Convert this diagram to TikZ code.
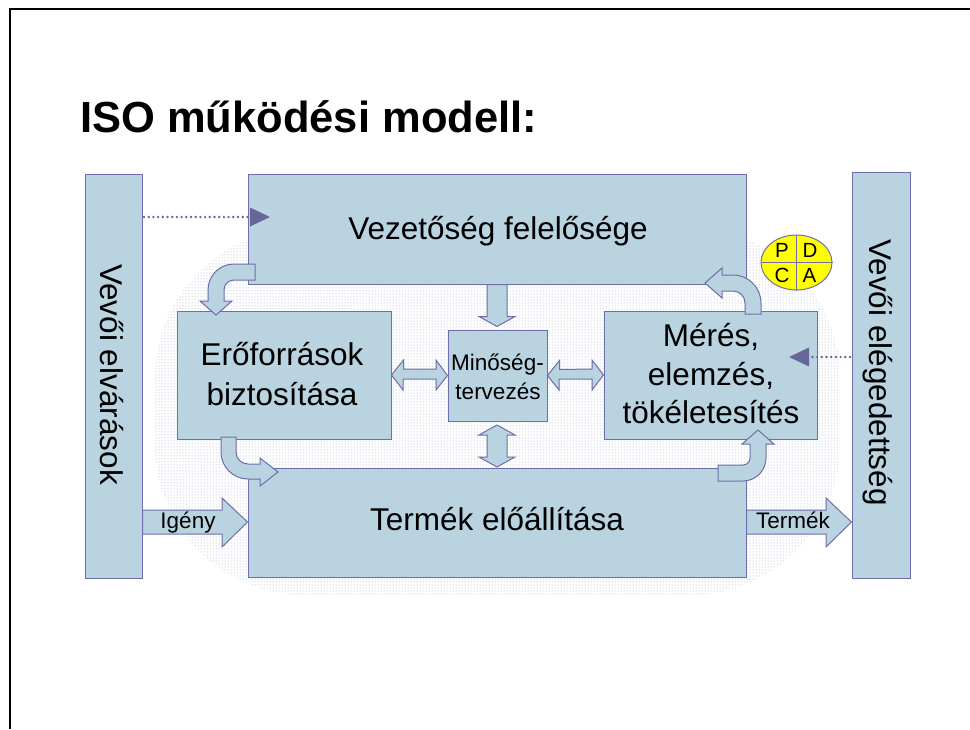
\documentclass[tikz,border=0pt]{standalone}
\usepackage{fontspec}
\setmainfont{Liberation Sans}
\usetikzlibrary{patterns,calc,shapes.geometric}
\definecolor{boxfill}{RGB}{185,212,224}
\definecolor{bord}{RGB}{110,110,170}
\definecolor{dotarrow}{RGB}{102,102,153}
\definecolor{bgdots}{RGB}{150,165,192}
\definecolor{pdcay}{RGB}{255,255,0}
\begin{document}
\begin{tikzpicture}[x=1pt,y=-1pt,
  box/.style={draw=bord, fill=boxfill, line width=1pt, inner sep=0pt, rectangle},
  barrow/.style={draw=bord, fill=boxfill, line width=1pt, line join=miter},
  big/.style={font=\fontsize{31.5}{38}\selectfont, inner sep=0pt, anchor=base},
  small/.style={font=\fontsize{22.5}{27}\selectfont, inner sep=0pt, anchor=base},
  pd/.style={font=\fontsize{20.5}{24}\selectfont, inner sep=0pt, anchor=base},
  dotfill/.style={fill=dotarrow, draw=none},
  dothead/.style={fill=dotarrow, draw=none},
]
\useasboundingbox (0,0) rectangle (970,729);
% frame
\draw[line width=2pt] (10,729) -- (10,9.3) -- (970,9.3);
% title
\node[anchor=base west, inner sep=0pt, font=\fontsize{43.5}{50}\selectfont\bfseries] (title) at (80,132) {ISO működési modell:};
% background dotted area
\fill[pattern=dots, pattern color=bgdots, rounded corners=150pt] (155,228) rectangle (840,595);
% columns
\node[box, minimum width=57pt, minimum height=404pt] (lcol) at (113.5,376) {};
\node[box, minimum width=58pt, minimum height=406pt] (rcol) at (881,375) {};
\node[big, rotate=-90] (lcolt) at (100,374.5) {Vevői elvárások};
\node[big, rotate=-90] (rcolt) at (869,372.5) {Vevői elégedettség};
% boxes
\node[box, minimum width=498pt, minimum height=110pt] (vez) at (497,229) {};
\node[box, minimum width=214pt, minimum height=128pt] (erof) at (284,375) {};
\node[box, minimum width=99pt, minimum height=91pt] (minos) at (497.5,375.5) {};
\node[box, minimum width=213pt, minimum height=128pt] (meres) at (710.5,375) {};
\node[box, minimum width=498pt, minimum height=109pt] (termek) at (497,522.5) {};
% PDCA
\node[draw=bord, fill=pdcay, line width=1pt, ellipse, minimum width=71pt, minimum height=55pt, inner sep=0pt] (pdca) at (796.5,262.5) {};
\draw[bord, line width=1pt] (pdca.north) -- (pdca.south);
\draw[bord, line width=1pt] (pdca.west) -- (pdca.east);
\node[pd] (pP) at (782,257) {P};
\node[pd] (pD) at (810,257) {D};
\node[pd] (pC) at (782,282) {C};
\node[pd] (pA) at (809.5,282) {A};
% straight block arrows
\draw[barrow] (lcol.east |- 0,510) -- (222,510) -- (222,498) -- (termek.west |- 0,522) -- (222,547) -- (222,534) -- (lcol.east |- 0,534) -- cycle;
\draw[barrow] (termek.east |- 0,510) -- (826,510) -- (826,498) -- (rcol.west |- 0,522) -- (826,547) -- (826,534) -- (termek.east |- 0,534) -- cycle;
\node[small] (igeny) at (188,528) {Igény};
\node[small] (termekl) at (793,528) {Termék};
% vez -> minos
\draw[barrow] ($(vez.south)+(-10,0)$) -- ++(0,32) -- ++(-8,0) -- ($(minos.north)+(-0.5,-3)$) -- ($(vez.south)+(18,32)$) -- ++(-8,0) -- ($(vez.south)+(10,0)$) -- cycle;
% minos <-> termek
\draw[barrow] (497,425) -- (515,435) -- (507,435) -- (507,457) -- (515,457) -- (497,467) -- (479,457) -- (487,457) -- (487,435) -- (479,435) -- cycle;
% erof <-> minos
\draw[barrow] (erof.east) -- ++(12,-15) -- ++(0,9) -- (436,369) -- (436,360) -- (minos.west) -- (436,390) -- (436,379) -- (403,379) -- (403,390) -- cycle;
% minos <-> meres
\draw[barrow] (minos.east) -- ++(12,-15) -- ++(0,9) -- (592,369) -- (592,360) -- (meres.west) -- (592,390) -- (592,379) -- (559,379) -- (559,390) -- cycle;
% curved arrow vez -> erof
\draw[barrow] (255,264) -- (234,264) .. controls (219.64,264) and (208,275.64) .. (208,290) -- (208,301) -- (200,301) -- (216,315) -- (232,301) -- (224,301) -- (224,290) .. controls (224,284.48) and (228.48,280) .. (234,280) -- (255,280) -- cycle;
% curved arrow erof -> termek
\draw[barrow] (221,437) -- (221,452) .. controls (221,466.91) and (233.09,479) .. (248,479) -- (260,479) -- (260,486) -- (278,472) -- (260,458) -- (260,464) -- (248,464) .. controls (241.37,464) and (236,458.63) .. (236,452) -- (236,437) -- cycle;
% curved arrow termek -> meres
\draw[barrow] (718,481) -- (743,481) .. controls (755.70,481) and (766,470.70) .. (766,458) -- (766,444) -- (774,444) -- (758,430) -- (742,444) -- (750,444) -- (750,458) .. controls (750,461.87) and (746.87,465) .. (743,465) -- (718,465) -- cycle;
% curved arrow meres -> vez
\draw[barrow] (761,314) -- (761,303) .. controls (761,287.54) and (748.46,275) .. (733,275) -- (722,275) -- (722,268) -- (705,283) -- (722,298) -- (722,291) -- (733,291) .. controls (739.63,291) and (745,296.37) .. (745,303) -- (745,314) -- cycle;
% dotted arrows
\coordinate (d1) at (250,217);
\coordinate (d2) at (809,357);
\foreach \i in {0,...,22} { \fill[dotfill] ($(lcol.east |- d1)+(\i*4.7+1.5,0)$) circle (1.35); }
\fill[dothead] (250,207.5) -- (270,217) -- (250,226.5) -- cycle;
\foreach \i in {0,...,9} { \fill[dotfill] ($(rcol.west |- d2)+(-\i*4.7-1.5,0)$) circle (1.35); }
\fill[dothead] (809,347.5) -- (789,357) -- (809,366.5) -- cycle;
% texts
\node[big] (vezt) at (498,239) {Vezetőség felelősége};
\node[big] (erof1) at (282,365) {Erőforrások};
\node[big] (erof2) at (282,405) {biztosítása};
\node[small] (min1) at (497.5,370) {Minőség-};
\node[small] (min2) at (498,399) {tervezés};
\node[big] (mer1) at (711,346) {Mérés,};
\node[big] (mer2) at (711,385) {elemzés,};
\node[big] (mer3) at (711,423) {tökéletesítés};
\node[big] (termt) at (497,530) {Termék előállítása};
\end{tikzpicture}
\end{document}
